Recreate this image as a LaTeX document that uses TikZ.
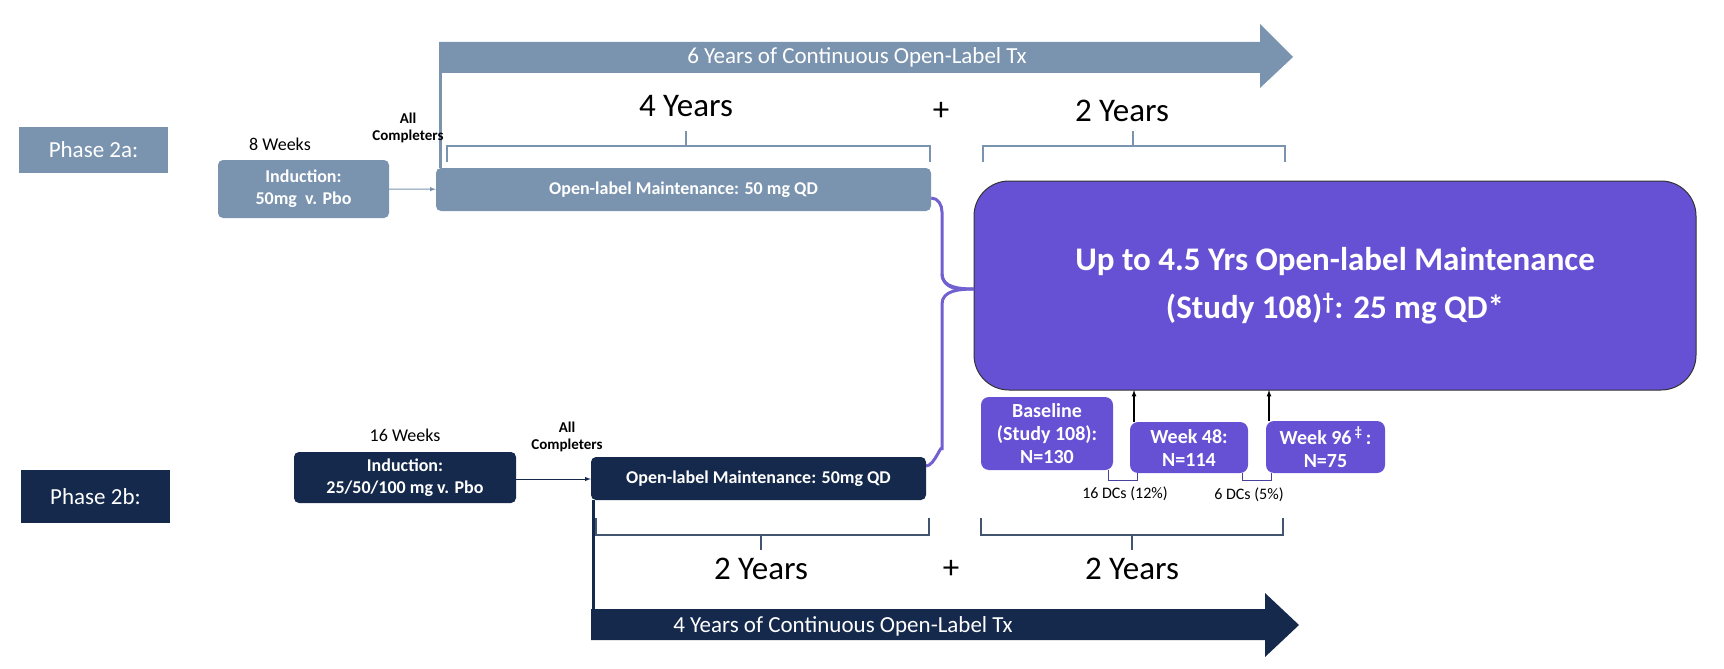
\documentclass[tikz,border=0pt]{standalone}
\usepackage{fontspec}
\setmainfont{Carlito}
\begin{document}
\begin{tikzpicture}[x=1pt,y=-1pt,
 steel/.style={fill=stl,draw=none,rounded corners=5pt,text=white,font=\bfseries\fontsize{18}{22}\selectfont,align=center},
 navy/.style={fill=nvy,draw=none,rounded corners=5pt,text=white,font=\bfseries\fontsize{18}{22}\selectfont,align=center},
 pbox/.style={fill=prp,draw=black!70,rounded corners=8pt,text=white,font=\bfseries\fontsize{20}{23}\selectfont,align=center},
 lbl/.style={font=\fontsize{33}{36}\selectfont},
 sm/.style={font=\fontsize{18}{20}\selectfont},
 br/.style={draw=nvy!80,line width=2pt}]
\definecolor{stl}{HTML}{7A93AF}
\definecolor{nvy}{HTML}{14294B}
\definecolor{prp}{HTML}{6650D4}
\definecolor{brc}{HTML}{7060D0}
\useasboundingbox (0,0) rectangle (1724,669);
% top arrow
\fill[stl] (439,42) -- (1260,42) -- (1260,24) -- (1293,57) -- (1260,88) -- (1260,73) -- (439,73) -- cycle;
\node[text=white,font=\fontsize{23}{26}\selectfont] (t6) at (857,57) {6 Years of Continuous Open-Label Tx};
\draw[stl,line width=3pt] (440,73) -- (440,168);
\node[lbl] (y4) at (686,106) {4 Years};
\node[lbl] (p1) at (941,111) {+};
\node[lbl] (y2a) at (1122,111) {2 Years};
\draw[stl,line width=2pt] (447,162) -- (447,146) -- (930,146) -- (930,162) (686,146) -- (686,131);
\draw[stl,line width=2pt] (983,162) -- (983,146) -- (1285,146) -- (1285,162) (1133,146) -- (1133,131);
% phase 2a
\node[fill=stl,text=white,minimum width=149pt,minimum height=46pt,font=\fontsize{23}{26}\selectfont] (ph2a) at (93.5,150) {Phase 2a:};
\node[sm] (w8) at (280,144) {8 Weeks};
\node[font=\bfseries\fontsize{15}{17}\selectfont,align=center] (ac1) at (408,128) {All\\Completers};
\node[steel,minimum width=171pt,minimum height=58pt] (ind1) at (303.5,189) {Induction:\\50mg\ \ v. Pbo};
\node[steel,minimum width=495pt,minimum height=43pt] (m1) at (683.5,189.5) {Open-label Maintenance: 50 mg QD};
\draw[-latex,stl,line width=1pt] (ind1) -- (m1);
% big box
\node[fill=prp,draw=black!80,line width=1pt,rounded corners=35pt,minimum width=722pt,minimum height=209pt,text=white,font=\bfseries\fontsize{33}{48}\selectfont,align=center] (big) at (1335,285.5) {Up to 4.5 Yrs Open-label Maintenance\\(Study 108)\textsuperscript{\dag}: 25 mg QD*};
% brace
\draw[brc,line width=3pt] (m1.east|-0,198) to[out=0,in=90] (942,212) -- (942,274) to[out=-90,in=180] (974,289);
\draw[brc,line width=3pt] (942,274) to[out=-90,in=180] (960,289);
\draw[brc,line width=3pt] (942,304) to[out=90,in=180] (974,289);
\draw[brc,line width=3pt] (942,304) -- (942,450) to[out=90,in=0] (926,466);
% phase 2b
\node[fill=nvy,text=white,minimum width=149pt,minimum height=53pt,font=\fontsize{23}{26}\selectfont] (ph2b) at (95.5,496.5) {Phase 2b:};
\node[sm] (w16) at (405,435) {16 Weeks};
\node[font=\bfseries\fontsize{15}{17}\selectfont,align=center] (ac2) at (567,437) {All\\Completers};
\node[navy,minimum width=222pt,minimum height=51pt] (ind2) at (405,477.5) {Induction:\\25/50/100 mg v. Pbo};
\node[navy,minimum width=335pt,minimum height=43pt] (m2) at (758.5,478.5) {Open-label Maintenance: 50mg QD};
\draw[-latex,nvy,line width=1pt] (ind2.east|-0,479) -- (m2.west|-0,479);
\draw[nvy,line width=3pt] (593,500) -- (593,611);
\draw[br] (596,518) -- (596,535) -- (929,535) -- (929,518) (761,535) -- (761,550);
\draw[br] (981,518) -- (981,535) -- (1283,535) -- (1283,518) (1132,535) -- (1132,550);
\node[lbl] (y2b) at (761,569) {2 Years};
\node[lbl] (p2) at (951,569) {+};
\node[lbl] (y2c) at (1132,569) {2 Years};
\fill[nvy] (591,609) -- (1265,609) -- (1265,593) -- (1299,625) -- (1265,657) -- (1265,640) -- (591,640) -- cycle;
\node[text=white,font=\fontsize{23}{26}\selectfont] (t4) at (843,626) {4 Years of Continuous Open-Label Tx};
% small boxes
\node[pbox,draw=none,minimum width=132pt,minimum height=73pt] (bl) at (1047,433.5) {Baseline\\(Study 108):\\N=130};
\node[pbox,draw=none,minimum width=118pt,minimum height=51pt] (wk48) at (1189,447.5) {Week 48:\\N=114};
\node[pbox,draw=none,minimum width=119pt,minimum height=52pt] (wk96) at (1325.5,447) {Week 96\,\textsuperscript{\ddag}\,:\\N=75};
\coordinate (a1) at (1134,390); \coordinate (a2) at (1269,390);
\draw[-latex,line width=1.2pt] (1134,422) -- (a1);
\draw[-latex,line width=1.2pt] (1269,421) -- (a2);
\draw[nvy!40!prp,line width=0.8pt] (1108,470) -- (1108,480) -- (1137,480) -- (1137,473);
\draw[nvy!40!prp,line width=0.8pt] (1242,473) -- (1242,480) -- (1271,480) -- (1271,473);
\node[font=\fontsize{16}{18}\selectfont] (dc1) at (1125,494) {16 DCs (12\%)};
\node[font=\fontsize{16}{18}\selectfont] (dc2) at (1249,495) {6 DCs (5\%)};
\end{tikzpicture}
\end{document}
